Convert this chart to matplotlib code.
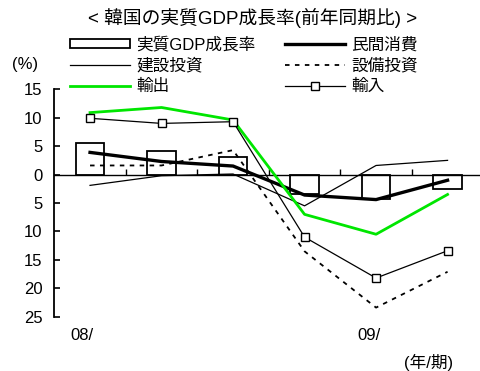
import numpy as np
import matplotlib
matplotlib.use('Agg')
import matplotlib.pyplot as plt
from matplotlib.transforms import blended_transform_factory

plt.rcParams['font.family'] = ['Liberation Sans', 'Noto Sans CJK JP']

# 2008Q1 .. 2009Q2, year-on-year %
quarters = ['08/1', '08/2', '08/3', '08/4', '09/1', '09/2']
gdp = [5.5, 4.2, 3.1, -3.4, -4.3, -2.5]
consumption = [3.9, 2.3, 1.5, -3.6, -4.4, -1.0]
construction = [-1.9, -0.2, 0.1, -5.5, 1.6, 2.5]
facility = [1.6, 1.6, 4.3, -13.5, -23.4, -17.1]
exports = [10.9, 11.8, 9.6, -7.0, -10.5, -3.5]
imports = [9.9, 9.0, 9.3, -11.0, -18.2, -13.4]

ytick_vals = [15, 10, 5, 0, -5, -10, -15, -20, -25]
ytick_text = ['15', '10', '5', '0', '5', '10', '15', '20', '25']
year_labels = ['08/', '09/']
year_label_x = [-0.11, 3.9]

fig = plt.figure(figsize=(4.8, 3.71), dpi=100)
ax = fig.add_axes([0.1131, 0.1464, 0.8938, 0.6129])

x = np.arange(len(quarters))
h_gdp = ax.bar(x, gdp, width=0.4, facecolor='white', edgecolor='black', linewidth=1.3,
               zorder=1)
h_cons, = ax.plot(x, consumption, color='black', lw=2.4, zorder=3)
h_cons_inv, = ax.plot(x, construction, color='black', lw=0.9, zorder=3)
h_fac, = ax.plot(x, facility, color='black', lw=1.3, ls=(0, (2.5, 3)), zorder=3)
h_exp, = ax.plot(x, exports, color='#00e600', lw=2.0, zorder=3)
h_imp, = ax.plot(x, imports, color='black', lw=0.9, marker='s', ms=6, mfc='white',
                 mec='black', mew=1.0, zorder=4)

ax.set_xlim(-0.5, 5.5)
ax.set_ylim(-25, 15)

ax.spines['top'].set_visible(False)
ax.spines['right'].set_visible(False)
ax.spines['bottom'].set_position(('data', 0))
ax.spines['bottom'].set_linewidth(1.0)
ax.spines['left'].set_linewidth(1.3)

ax.set_xticks(np.arange(0.5, 5.0, 1.0))
ax.set_xticklabels([])
ax.tick_params(axis='x', direction='in', length=4, width=1)
ax.set_yticks(ytick_vals)
ax.set_yticklabels(ytick_text)
ax.tick_params(axis='y', direction='in', length=4, width=1.2, pad=8.5, labelsize=12)

tr = blended_transform_factory(ax.transData, fig.transFigure)
for lx, lab in zip(year_label_x, year_labels):
    ax.text(lx, 0.097, lab, transform=tr, ha='center', va='center', fontsize=12)

fig.text(0.527, 0.951, '< 韓国の実質GDP成長率(前年同期比) >', ha='center', va='center', fontsize=13.5)
fig.text(0.052, 0.825, '(%)', ha='center', va='center', fontsize=12)
fig.text(0.892, 0.024, '(年/期)', ha='center', va='center', fontsize=12)

# legend fills column by column: left column first, then right
fig.legend([h_gdp, h_cons_inv, h_exp, h_cons, h_fac, h_imp],
           ['実質GDP成長率', '建設投資', '輸出', '民間消費', '設備投資', '輸入'], ncol=2,
           loc='upper left', bbox_to_anchor=(0.146, 0.902), frameon=False,
           fontsize=12, handlelength=3.6, handleheight=0.5, handletextpad=0.36,
           columnspacing=1.8, labelspacing=0.32, borderpad=0, borderaxespad=0)

fig.savefig('out.png', dpi=100)
